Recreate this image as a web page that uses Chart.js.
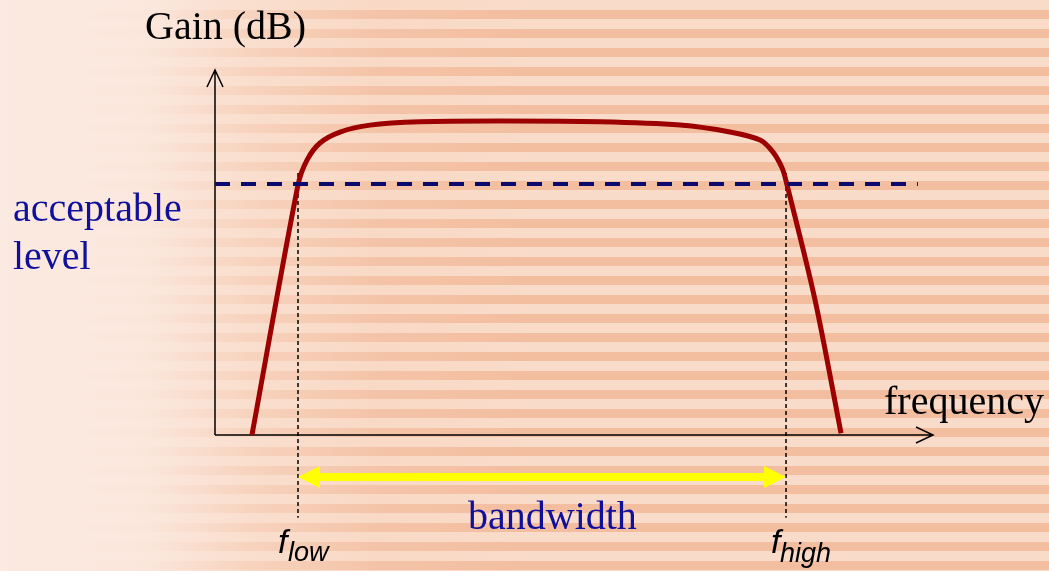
<!DOCTYPE html>
<html>
<head>
<meta charset="utf-8">
<script src="https://cdn.jsdelivr.net/npm/chart.js@4/dist/chart.umd.min.js"></script>
<style>
  html, body { margin: 0; padding: 0; }
  body {
    width: 1049px; height: 571px; overflow: hidden; position: relative;
    background:
      linear-gradient(90deg, rgba(251,234,225,1) 0%, rgba(251,232,222,0.95) 14%, rgba(250,224,208,0.6) 24%, rgba(248,212,190,0.25) 36%, rgba(246,200,175,0) 50%),
      repeating-linear-gradient(180deg, #f9dbc9 0px, #f9dbc9 10px, #f3bea0 10px, #f3bea0 19px);
  }
  canvas { position: absolute; left: 0; top: 0; }
  .lbl { position: absolute; line-height: 1; white-space: nowrap; font-family: "Liberation Serif", "Times New Roman", serif; font-size: 40px; }
  .navy { color: #10109c; }
  .f { font-family: "Liberation Sans", Arial, sans-serif; font-style: italic; color: #000; }
</style>
</head>
<body>
<canvas id="chart" width="1049" height="571"></canvas>
<div class="lbl" style="left:145px; top:6px;">Gain (dB)</div>
<div class="lbl navy" style="left:13px; top:188px;">acceptable</div>
<div class="lbl navy" style="left:13px; top:236px;">level</div>
<div class="lbl" style="left:884px; top:381px;">frequency</div>
<div class="lbl navy" style="left:468px; top:496px;">bandwidth</div>
<div class="lbl f" style="left:278px; top:524px; font-size:34px;">f</div>
<div class="lbl f" style="left:288px; top:539px; font-size:27px;">low</div>
<div class="lbl f" style="left:771px; top:524px; font-size:34px;">f</div>
<div class="lbl f" style="left:780px; top:540px; font-size:27px;">high</div>
<script>
// Response curve (frequency / gain in arbitrary units, 0..100)
const curveFreq = [5.15, 11.56, 12.81, 14.62, 17.41, 21.59, 28.55, 39.69, 53.62, 64.76, 71.73, 75.91, 77.72, 78.97, 79.53, 83.57, 87.19]
const curveGain = [0, 68.5, 75.3, 80.0, 83.0, 84.9, 85.8, 86.0, 85.8, 84.9, 83.0, 80.8, 77.5, 73.2, 69.6, 37.0, 0.5]

// Acceptable level line
const acceptableLevel = 68.8
const levelSpan = [0, 97.9]

// Cut-off frequencies and the span of their marker lines
const fLow = 11.56
const fHigh = 79.53
const markerSpan = [71.8, -22.7]

// Bandwidth arrow height (below the axis)
const bandwidthGain = -11.5

const pts = (xs, ys) => xs.map((x, i) => ({ x, y: ys[i] }))

// Axes with open arrowheads + arrowheads on the bandwidth bar
const arrowPlugin = {
  id: 'arrows',
  beforeDatasetsDraw(chart) {
    const { ctx, scales: { x, y } } = chart
    const x0 = x.getPixelForValue(0)
    const y0 = y.getPixelForValue(0)
    const xEnd = x.getPixelForValue(100)
    const yEnd = y.getPixelForValue(100)
    ctx.save()
    ctx.strokeStyle = '#000'
    ctx.lineWidth = 1.5
    ctx.beginPath()
    ctx.moveTo(x0, y0)
    ctx.lineTo(x0, yEnd)
    ctx.moveTo(x0 - 8, yEnd + 17)
    ctx.lineTo(x0, yEnd)
    ctx.lineTo(x0 + 8, yEnd + 17)
    ctx.moveTo(x0, y0)
    ctx.lineTo(xEnd, y0)
    ctx.moveTo(xEnd - 17, y0 - 8)
    ctx.lineTo(xEnd, y0)
    ctx.lineTo(xEnd - 17, y0 + 8)
    ctx.stroke()
    ctx.restore()
  },
  afterDatasetsDraw(chart) {
    const { ctx, scales: { x, y } } = chart
    const yb = y.getPixelForValue(bandwidthGain)
    const xl = x.getPixelForValue(fLow)
    const xr = x.getPixelForValue(fHigh)
    ctx.save()
    ctx.fillStyle = '#ffff00'
    ctx.beginPath()
    ctx.moveTo(xl, yb)
    ctx.lineTo(xl + 22, yb - 11)
    ctx.lineTo(xl + 22, yb + 11)
    ctx.closePath()
    ctx.moveTo(xr, yb)
    ctx.lineTo(xr - 22, yb - 11)
    ctx.lineTo(xr - 22, yb + 11)
    ctx.closePath()
    ctx.fill()
    ctx.restore()
  },
}

new Chart(document.getElementById('chart'), {
  type: 'line',
  data: {
    datasets: [
      {
        label: 'acceptable level',
        data: pts(levelSpan, [acceptableLevel, acceptableLevel]),
        borderColor: '#0a0a6e',
        borderWidth: 4,
        borderDash: [15, 11],
        pointRadius: 0,
        order: 0,
      },
      {
        label: 'gain',
        data: pts(curveFreq, curveGain),
        borderColor: '#9c0000',
        borderWidth: 5,
        tension: 0.3,
        pointRadius: 0,
        order: 1,
      },
      {
        label: 'f low',
        data: pts([fLow, fLow], markerSpan),
        borderColor: '#000',
        borderWidth: 1.5,
        borderDash: [4, 3],
        pointRadius: 0,
        clip: false,
        order: 2,
      },
      {
        label: 'f high',
        data: pts([fHigh, fHigh], markerSpan),
        borderColor: '#000',
        borderWidth: 1.5,
        borderDash: [4, 3],
        pointRadius: 0,
        clip: false,
        order: 2,
      },
      {
        label: 'bandwidth',
        data: pts([fLow + 2, fHigh - 2], [bandwidthGain, bandwidthGain]),
        borderColor: '#ffff00',
        borderWidth: 8,
        pointRadius: 0,
        clip: false,
        order: 3,
      },
    ],
  },
  options: {
    responsive: false,
    animation: false,
    layout: { padding: { left: 215, top: 70, right: 116, bottom: 136 } },
    plugins: { legend: { display: false }, tooltip: { enabled: false } },
    scales: {
      x: { type: 'linear', min: 0, max: 100, display: false },
      y: { type: 'linear', min: 0, max: 100, display: false },
    },
  },
  plugins: [arrowPlugin],
})
</script>
</body>
</html>
